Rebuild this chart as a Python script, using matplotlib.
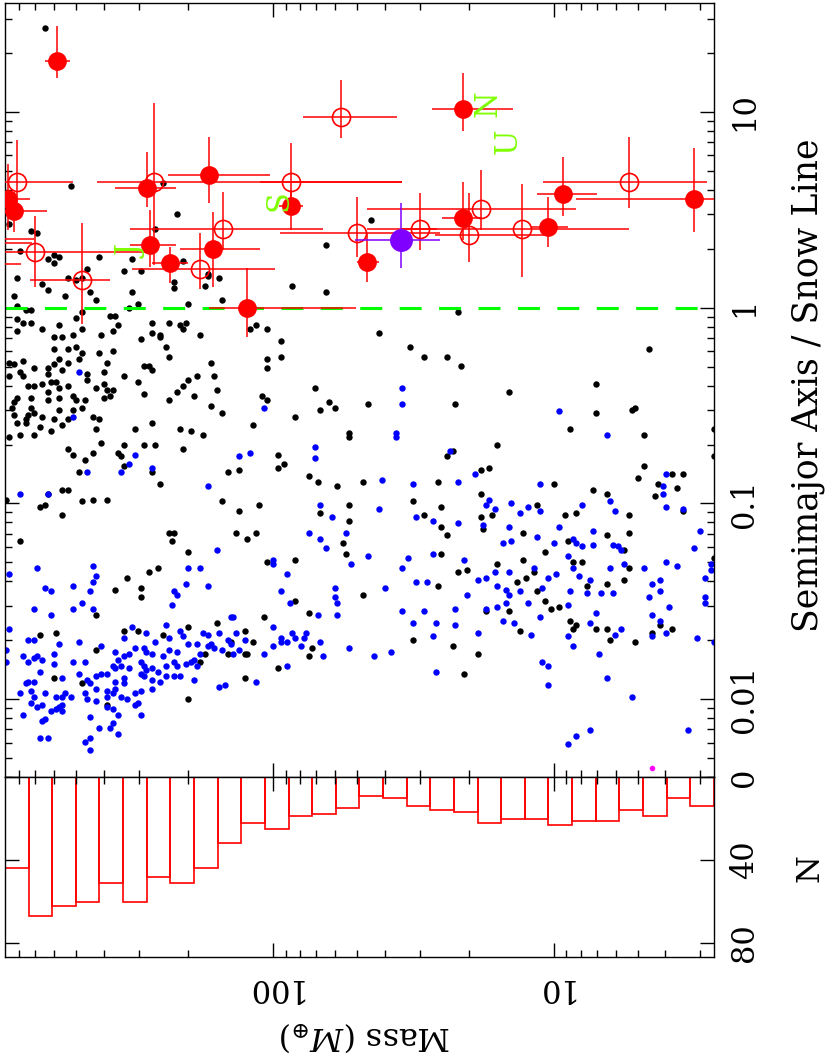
import numpy as np
import matplotlib
matplotlib.use('Agg')
import matplotlib.pyplot as plt
from matplotlib.ticker import FixedLocator, LogLocator, NullFormatter

plt.rcParams['font.family'] = 'DejaVu Serif'
plt.rcParams['mathtext.fontset'] = 'dejavuserif'

# ---------------------------------------------------------------
# Values
# known planets: (log10 mass [M_earth], log10 a / a_snow)
# ---------------------------------------------------------------
black_pts = [
    (2.81, 1.43), (2.72, 0.62), (2.39, 0.64), (2.34, 0.48), (2.42, 0.40), (2.86, 0.39),
    (2.84, 0.38), (2.94, 0.43), (2.90, 0.29), (2.78, 0.27), (2.80, 0.25), (2.78, 0.23),
    (2.76, 0.26), (2.62, 0.26), (2.50, 0.25), (2.47, 0.19), (2.53, 0.19), (2.32, 0.24),
    (2.91, 0.15), (2.82, 0.12), (2.80, 0.09), (2.73, 0.15), (2.70, 0.14), (2.68, 0.15),
    (2.66, 0.20), (2.65, 0.08), (2.63, 0.04), (2.50, 0.08), (2.35, 0.13), (2.35, 0.10),
    (2.23, 0.17), (2.23, 0.16), (2.24, 0.11), (2.19, 0.15), (2.18, 0.04), (2.74, 0.06),
    (2.92, 0.06), (1.65, 0.45), (1.81, 0.32), (1.93, 0.11), (1.81, 0.08),
    (2.91, 0.01), (2.88, -0.01), (2.86, -0.01), (2.91, -0.06), (2.89, -0.08), (2.86, -0.08),
    (2.91, -0.12), (2.82, -0.11), (2.76, -0.09), (2.70, -0.05), (2.68, -0.02), (2.68, -0.11),
    (2.71, -0.14), (2.78, -0.15), (2.75, -0.15), (2.58, -0.04), (2.56, -0.04), (2.55, -0.09),
    (2.57, -0.12), (2.61, -0.14), (2.51, 0.00), (2.48, 0.02), (2.43, -0.08), (2.43, -0.13),
    (2.40, -0.14), (2.40, -0.15), (2.47, -0.16), (2.37, -0.08), (2.33, -0.09), (2.31, -0.08),
    (2.32, -0.11), (2.26, -0.14), (2.30, 0.02), (2.08, -0.11), (2.06, -0.09), (2.02, -0.11),
    (2.02, -0.26), (2.02, -0.31), (2.78, -0.21), (2.76, -0.26), (2.73, -0.21), (2.70, -0.20),
    (2.68, -0.23), (2.62, -0.23), (2.57, -0.22), (2.59, -0.28), (2.69, -0.26), (2.38, -0.20),
    (2.37, -0.25), (2.94, -0.28), (2.92, -0.29), (2.89, -0.27), (2.85, -0.31), (2.80, -0.31),
    (2.78, -0.29), (2.80, -0.34), (2.75, -0.32), (2.73, -0.28), (2.66, -0.34), (2.60, -0.33),
    (2.53, -0.35), (2.46, -0.30), (2.44, -0.30), (2.43, -0.32), (2.22, -0.28), (2.21, -0.35),
    (2.94, -0.35), (2.90, -0.33), (2.89, -0.35), (2.87, -0.40), (2.85, -0.40), (2.82, -0.39),
    (2.79, -0.38), (2.77, -0.38), (2.76, -0.41), (2.73, -0.40), (2.66, -0.37), (2.63, -0.41),
    (2.60, -0.39), (2.59, -0.42), (2.57, -0.42), (2.58, -0.45), (2.60, -0.46), (2.48, -0.38),
    (2.32, -0.40), (2.30, -0.37), (2.27, -0.35), (2.20, -0.42), (2.46, -0.44), (2.37, -0.47),
    (2.34, -0.43), (2.28, -0.45), (2.91, -0.46), (2.92, -0.48), (2.93, -0.51), (2.92, -0.55),
    (2.91, -0.59), (2.94, -0.66), (2.86, -0.46), (2.80, -0.43), (2.80, -0.47), (2.76, -0.46),
    (2.71, -0.45), (2.70, -0.47), (2.67, -0.47), (2.86, -0.51), (2.85, -0.54), (2.87, -0.55),
    (2.88, -0.57), (2.88, -0.59), (2.78, -0.57), (2.76, -0.52), (2.82, -0.56), (2.71, -0.52),
    (2.68, -0.51), (2.22, -0.50), (2.18, -0.54), (2.04, -0.45), (2.02, -0.47), (2.64, -0.56),
    (2.62, -0.57), (2.63, -0.62), (2.73, -0.57), (2.75, -0.60), (2.79, -0.63), (2.83, -0.61),
    (2.85, -0.65), (2.90, -0.65), (2.43, -0.59), (2.49, -0.62), (2.33, -0.62), (2.29, -0.63),
    (2.25, -0.65), (2.07, -0.60), (2.61, -0.69), (2.53, -0.70), (2.46, -0.70), (2.42, -0.70),
    (2.32, -0.72), (2.73, -0.72), (2.71, -0.75), (2.64, -0.74), (2.67, -0.78), (2.55, -0.74),
    (2.54, -0.76), (2.53, -0.81), (2.69, -0.84), (2.43, -0.84), (2.40, -0.90), (2.16, -0.84),
    (2.12, -0.83), (2.75, -0.93), (2.73, -0.93), (2.80, -0.95), (2.95, -0.98), (2.83, -1.02),
    (2.81, -1.01), (2.75, -1.06), (2.68, -0.99), (2.64, -0.98), (2.59, -0.98), (2.18, -0.99),
    (2.12, -1.04), (2.05, -1.01), (2.90, -1.19), (2.37, -1.15), (2.35, -1.15), (2.36, -1.19),
    (2.30, -1.25), (2.13, -1.15), (2.06, -1.15), (2.09, -1.18), (2.02, -1.30), (2.41, -1.33),
    (2.44, -1.35), (2.52, -1.38), (2.47, -1.43), (2.47, -1.48), (2.56, -1.44), (2.63, -1.57),
    (2.77, -1.66), (2.83, -1.67), (2.53, -1.65), (2.48, -1.65), (2.30, -1.63), (2.20, -1.61),
    (2.10, -1.65), (2.03, -1.58), (2.39, -1.67),
    (2.63, -1.75), (2.78, -1.89), (2.68, -1.92), (2.30, -2.00), (2.10, -1.89), (2.10, -1.77),
    (2.09, -1.77), (2.07, -1.71), (2.16, -1.77), (2.24, -1.77), (2.26, -1.81), (2.15, -1.71),
    (2.59, -2.03),
    (1.34, -0.02), (1.62, -0.13), (1.97, -0.17), (1.97, -0.25), (1.51, -0.20), (1.46, -0.25),
    (1.38, -0.25), (1.33, -0.30), (1.85, -0.41), (1.80, -0.48), (1.83, -0.52), (1.78, -0.51),
    (1.66, -0.49), (1.35, -0.49), (1.92, -0.56), (1.73, -0.64), (1.73, -0.66), (1.98, -0.75),
    (1.98, -0.82), (1.96, -0.80), (1.38, -0.76), (1.36, -0.73), (1.20, -0.70), (1.87, -0.86),
    (1.84, -0.89), (1.77, -0.91), (1.68, -0.89), (1.41, -0.89), (1.26, -0.83), (1.23, -0.82),
    (1.26, -0.95), (1.50, -0.99), (1.40, -1.02), (1.46, -1.06), (1.83, -1.05), (1.73, -1.01),
    (1.73, -1.09), (1.40, -1.12), (1.38, -1.16), (1.26, -1.07), (1.25, -1.13), (1.22, -1.06),
    (1.75, -1.20), (1.74, -1.26), (1.92, -1.29), (1.40, -1.26), (1.34, -1.35), (1.31, -1.34),
    (1.20, -1.31), (1.41, -1.42), (1.68, -1.47), (1.92, -1.50), (1.87, -1.56), (1.24, -1.55),
    (1.86, -1.74), (1.87, -1.78), (1.50, -1.70), (1.36, -1.73), (1.27, -1.77), (1.98, -1.84),
    (1.32, -1.87),
    (1.16, -0.43), (0.85, -0.39), (0.85, -0.54), (0.94, -0.62), (0.66, -0.21), (0.72, -0.52),
    (0.71, -0.51), (0.68, -0.65), (0.43, -0.62), (0.43, -0.76), (0.68, -0.81), (0.70, -0.87),
    (0.58, -0.85), (0.54, -0.85), (0.63, -0.90), (0.56, -0.92), (0.64, -0.96), (1.00, -0.90),
    (0.86, -0.93), (0.81, -0.95), (1.06, -1.01), (0.96, -1.06), (0.92, -1.05), (0.73, -1.06),
    (0.54, -1.04), (1.11, -1.15), (0.95, -1.19), (0.81, -1.16), (0.73, -1.15), (1.03, -1.25),
    (0.75, -1.24), (1.11, -1.29), (1.07, -1.35), (0.93, -1.30), (0.90, -1.30), (0.73, -1.33),
    (0.43, -1.28), (1.10, -1.38), (1.13, -1.40), (1.06, -1.45), (0.88, -1.42), (0.81, -1.41),
    (0.75, -1.39), (1.03, -1.50), (0.98, -1.53), (1.01, -1.54), (1.16, -1.55), (1.12, -1.65),
    (0.94, -1.60), (0.93, -1.64), (0.92, -1.62), (0.85, -1.64), (0.81, -1.64), (0.80, -1.70),
    (0.71, -1.71), (0.65, -1.66), (0.62, -1.62), (0.58, -1.64),
]

blue_pts = [
    (2.69, -0.33), (2.71, -0.56), (2.03, -0.51), (2.49, -0.75), (2.51, -0.80), (2.54, -0.84),
    (2.66, -0.84), (2.43, -0.82), (2.12, -0.76), (2.08, -0.74), (2.23, -0.91), (2.90, -0.95),
    (2.80, -0.95), (2.20, -1.24), (2.94, -1.36), (2.84, -1.33), (2.64, -1.32), (2.63, -1.37),
    (2.64, -1.40), (2.30, -1.33), (2.26, -1.33), (2.71, -1.42), (2.81, -1.43), (2.79, -1.45),
    (2.65, -1.45), (2.31, -1.41), (2.23, -1.42), (2.35, -1.45), (2.34, -1.47), (2.36, -1.52),
    (2.68, -1.51), (2.71, -1.54), (2.64, -1.54), (2.85, -1.54), (2.79, -1.57), (2.15, -1.58),
    (2.14, -1.58), (2.94, -1.64), (2.87, -1.70), (2.85, -1.70), (2.50, -1.63), (2.45, -1.66),
    (2.38, -1.62), (2.33, -1.65), (2.32, -1.68), (2.25, -1.66), (2.23, -1.67), (2.19, -1.66),
    (2.16, -1.70), (2.13, -1.66), (2.10, -1.70), (2.53, -1.69), (2.37, -1.69),
    (2.95, -1.75), (2.95, -1.81), (2.89, -1.78), (2.87, -1.81), (2.85, -1.79), (2.84, -1.78),
    (2.82, -1.80), (2.78, -1.77), (2.78, -1.82), (2.76, -1.72), (2.71, -1.81), (2.67, -1.81),
    (2.69, -1.71), (2.61, -1.73), (2.56, -1.76), (2.55, -1.80), (2.53, -1.78), (2.51, -1.77),
    (2.49, -1.74), (2.46, -1.74), (2.45, -1.76), (2.43, -1.77), (2.42, -1.71), (2.39, -1.78),
    (2.37, -1.75), (2.34, -1.76), (2.30, -1.72), (2.27, -1.72), (2.26, -1.77), (2.23, -1.73),
    (2.22, -1.72), (2.21, -1.74), (2.18, -1.75), (2.15, -1.72), (2.14, -1.77), (2.12, -1.75),
    (2.03, -1.77), (2.57, -1.83), (2.56, -1.84), (2.54, -1.83), (2.51, -1.84), (2.47, -1.81),
    (2.46, -1.83), (2.45, -1.85), (2.47, -1.87), (2.43, -1.84), (2.41, -1.86), (2.38, -1.83),
    (2.35, -1.81), (2.34, -1.83), (2.31, -1.82), (2.29, -1.81), (2.28, -1.80), (2.27, -1.83),
    (2.33, -1.88), (2.35, -1.88), (2.38, -1.88), (2.40, -1.91), (2.43, -1.90), (2.46, -1.88),
    (2.43, -1.95), (2.49, -1.97), (2.47, -1.96), (2.52, -2.00), (2.54, -1.99), (2.56, -1.95),
    (2.57, -1.97), (2.61, -1.87), (2.63, -1.88), (2.59, -1.87), (2.53, -1.89), (2.53, -1.92),
    (2.56, -1.91), (2.66, -1.90), (2.65, -1.92), (2.69, -1.87), (2.75, -1.89), (2.83, -1.86),
    (2.88, -1.92), (2.87, -1.91), (2.85, -1.91), (2.90, -1.97), (2.86, -1.96), (2.81, -1.97),
    (2.85, -1.99), (2.77, -1.99), (2.75, -1.99), (2.74, -1.97), (2.72, -1.99), (2.67, -1.97),
    (2.66, -2.00), (2.63, -1.95), (2.59, -1.96), (2.59, -1.99), (2.63, -2.01), (2.75, -2.03),
    (2.76, -2.04), (2.77, -2.05), (2.79, -2.06), (2.75, -2.06), (2.82, -2.03), (2.86, -2.02),
    (2.84, -2.04), (2.89, -2.08), (2.81, -2.10), (2.82, -2.11), (2.65, -2.09), (2.59, -2.04),
    (2.57, -2.05), (2.55, -2.08), (2.49, -2.03), (2.48, -2.02), (2.47, -2.08), (2.57, -2.12),
    (2.58, -2.15), (2.62, -2.15), (2.55, -2.18), (2.67, -2.22), (2.65, -2.20), (2.83, -2.20),
    (2.80, -2.20), (2.65, -2.26), (2.19, -1.94), (2.17, -1.93), (2.06, -1.91), (2.28, -1.90),
    (1.54, -0.41), (1.54, -0.49), (1.56, -0.64), (1.56, -0.66), (1.85, -0.71), (1.85, -0.77),
    (1.37, -0.73), (1.61, -0.88), (1.50, -0.90), (1.34, -0.89), (1.28, -0.85), (1.83, -1.01),
    (1.79, -1.07), (1.62, -1.03), (1.49, -1.07), (1.43, -1.09), (1.34, -1.10), (1.23, -0.98),
    (1.24, -1.01), (1.21, -1.03), (1.25, -1.11), (1.87, -1.15), (1.83, -1.18), (1.74, -1.15),
    (1.81, -1.23), (1.72, -1.31), (1.66, -1.27), (1.52, -1.28), (1.54, -1.33), (1.43, -1.26),
    (1.32, -1.29), (2.00, -1.29), (2.00, -1.31), (1.95, -1.36), (1.97, -1.45), (1.94, -1.51),
    (1.78, -1.43), (1.78, -1.48), (1.77, -1.51), (1.77, -1.57), (1.84, -1.57), (1.60, -1.43),
    (1.49, -1.40), (1.45, -1.40), (1.27, -1.39), (1.24, -1.38), (1.21, -1.35), (1.20, -1.42),
    (1.31, -1.47), (1.54, -1.55), (1.46, -1.55), (1.35, -1.54), (1.24, -1.54), (1.20, -1.53),
    (1.50, -1.61), (1.42, -1.61), (1.35, -1.62), (1.27, -1.66), (1.43, -1.68), (2.00, -1.63),
    (2.00, -1.73), (1.97, -1.71), (1.97, -1.69), (1.95, -1.71), (1.93, -1.66), (1.92, -1.69),
    (1.90, -1.73), (1.89, -1.69), (1.88, -1.66), (1.83, -1.71), (1.82, -1.78), (1.73, -1.74),
    (1.64, -1.78), (1.58, -1.76), (1.42, -1.86), (1.95, -1.83),
    (0.98, -0.53), (0.81, -0.65), (1.05, -0.90), (0.60, -0.85), (0.61, -0.91), (0.61, -0.95),
    (0.80, -0.99), (0.78, -1.04), (0.54, -1.03), (1.15, -1.00), (1.09, -1.02), (1.12, -1.05),
    (1.05, -1.04), (0.90, -1.01), (1.16, -1.12), (0.98, -1.12), (0.86, -1.14), (1.18, -1.20),
    (1.15, -1.19), (1.06, -1.17), (1.00, -1.20), (0.93, -1.18), (0.92, -1.20), (0.90, -1.22),
    (0.86, -1.21), (0.79, -1.21), (0.77, -1.22), (0.76, -1.24), (0.48, -1.14), (0.50, -1.23),
    (1.07, -1.33), (1.16, -1.35), (0.95, -1.27), (0.93, -1.33), (0.80, -1.33), (0.75, -1.31),
    (0.68, -1.33), (0.60, -1.30), (0.56, -1.32), (0.44, -1.31), (0.44, -1.34), (0.91, -1.37),
    (1.02, -1.38), (0.99, -1.36), (0.87, -1.39), (0.46, -1.38), (1.17, -1.44), (1.16, -1.47),
    (1.12, -1.45), (1.04, -1.43), (0.94, -1.45), (0.88, -1.46), (0.83, -1.46), (0.79, -1.46),
    (0.65, -1.41), (0.62, -1.39), (0.62, -1.45), (0.66, -1.48), (0.46, -1.48), (0.46, -1.51),
    (1.17, -1.51), (1.09, -1.51), (1.05, -1.58), (1.18, -1.60), (1.14, -1.61), (1.08, -1.67),
    (0.95, -1.52), (0.85, -1.56), (0.87, -1.61), (0.65, -1.57), (0.62, -1.60), (0.59, -1.53),
    (0.76, -1.64), (0.78, -1.67), (0.95, -1.68), (0.93, -1.73), (0.84, -1.77), (0.65, -1.68),
    (0.60, -1.66), (0.49, -1.69), (0.43, -1.71), (1.04, -1.81), (1.02, -1.83), (1.02, -1.93),
    (0.81, -1.89), (0.72, -1.99), (0.52, -2.16), (0.87, -2.16), (0.92, -2.19), (0.95, -2.23),
    (0.60, -1.02),
]

# microlensing planets (red), with ranges
red_mass = [586, 877, 834, 815, 702, 478, 281, 265, 169, 274, 232, 182, 163, 150, 124,
            86, 86, 57, 50, 46, 29.9, 21, 21, 20, 18.2, 13, 10.5, 9.27, 5.4, 3.17,
            1100, 1100, 1100]
red_a = [18.2, 3.59, 3.12, 4.39, 1.93, 1.38, 4.1, 4.4, 4.76, 2.09, 1.69, 1.58, 1.99, 2.52, 1.0,
         3.31, 4.39, 9.4, 2.4, 1.71, 2.52, 10.4, 2.87, 2.35, 3.19, 2.52, 2.6, 3.81, 4.39, 3.59,
         2.24, 2.14, 1.67]
red_mass_lo = [527, 731, 637, 514, 262, 380, 221, 34.7, 102, 221, 200, 98, 111, 66, 50.6,
               78, 34.7, 36, 25.4, 42, 26, 14.0, 18, 10.6, 8.3, 5.4, 8.9, 7.0, 2.85, 2.67,
               710, 720, 790]
red_mass_hi = [647, 1000, 1000, 898, 898, 731, 365, 423, 236, 322, 270, 318, 214, 322, 169,
               95, 111, 78, 94, 50, 46, 27.2, 25, 26.5, 46, 35, 12, 11.5, 10.9, 8.3,
               1100, 1100, 1100]
red_a_lo = [14.9, 2.5, 2.45, 3.0, 1.27, 0.83, 3.26, 1.65, 3.42, 1.61, 1.34, 1.24, 1.27, 1.97, 0.71,
            2.5, 3.6, 7.36, 1.82, 1.35, 1.97, 8.0, 2.22, 1.71, 2.5, 1.44, 2.04, 2.94, 3.23, 2.44,
            2.24, 2.14, 1.67]
red_a_hi = [27.5, 5.4, 3.9, 7.2, 2.94, 2.71, 6.24, 11.1, 7.45, 3.15, 2.04, 2.42, 3.1, 3.9, 1.6,
            4.0, 6.94, 14.6, 3.67, 2.41, 3.85, 15.8, 4.39, 3.85, 5.05, 4.3, 3.7, 5.89, 7.45, 6.54,
            2.24, 2.14, 1.67]
red_filled = [1, 1, 1, 0, 0, 0, 1, 0, 1, 1, 1, 0, 1, 0, 1,
              1, 0, 0, 0, 1, 0, 1, 1, 0, 0, 0, 1, 1, 0, 1,
              1, 0, 1]

# purple point and its ranges
purple_mass, purple_a = 35, 2.22
purple_mass_rng = (25.4, 51)
purple_a_rng = (1.6, 3.42)

# lone magenta point
magenta_mass, magenta_a = 4.46, 0.00447

# solar system planets (a in units of the 2.7 AU snow line)
solar_names = ['J', 'S', 'U', 'N']
solar_mass = [317.8, 95.2, 14.5, 17.1]
solar_a = [1.93, 3.54, 7.11, 11.1]

# histogram of masses, bins from high mass to low mass
hist_mass_range = (898, 2.69)
hist_counts = [44, 67, 62, 60, 51, 60, 48, 51, 44, 32, 22, 25, 19, 18, 15,
               9, 10, 14, 16, 17, 22, 20, 20, 23, 21, 21, 16, 19, 10, 14]

snow_line = 1.0


def style_axis(ax):
    '''Log mass axis, inward ticks on every side.'''
    ax.set_xscale('log')
    ax.set_xlim(*hist_mass_range)
    ax.xaxis.set_major_locator(FixedLocator([10, 100]))
    ax.xaxis.set_minor_locator(LogLocator(subs=np.arange(2, 10)))
    ax.xaxis.set_minor_formatter(NullFormatter())
    ax.tick_params(which='both', direction='in', top=True, bottom=True,
                   left=True, right=True, width=1.0, labelsize=22)
    ax.tick_params(which='major', length=10)
    ax.tick_params(which='minor', length=5)
    for sp in ax.spines.values():
        sp.set_linewidth(1.0)


fig = plt.figure(figsize=(8.3, 10.59), dpi=100)
ax = fig.add_axes([0.006, 0.2663, 0.854, 0.7309])
axh = fig.add_axes([0.006, 0.0963, 0.854, 0.1700])

style_axis(ax)
style_axis(axh)

# main panel
ax.set_yscale('log')
ax.set_ylim(0.004, 36.1)
ax.yaxis.set_minor_locator(LogLocator(subs=np.arange(2, 10)))
ax.yaxis.set_minor_formatter(NullFormatter())
ax.set_yticks([0.01, 0.1, 1, 10])
ax.set_yticklabels(['0.01', '0.1', '1', '10'], rotation=90, va='center')
ax.tick_params(labelbottom=False, labelleft=False, labelright=True, pad=11)

bm, ba = np.array(black_pts).T
ax.plot(10**bm, 10**ba, 'o', color='black', ms=4.6, mew=0, zorder=2)
cm, ca = np.array(blue_pts).T
ax.plot(10**cm, 10**ca, 'o', color='#0000ff', ms=4.6, mew=0, zorder=2)

ax.axhline(snow_line, color='#00ff00', lw=2.2, dashes=(7.2, 5.7), zorder=2.5)

for i in range(len(red_mass)):
    m, a = red_mass[i], red_a[i]
    xerr = [[m - red_mass_lo[i]], [red_mass_hi[i] - m]]
    yerr = [[a - red_a_lo[i]], [red_a_hi[i] - a]]
    ax.errorbar(m, a, xerr=xerr, yerr=yerr, fmt='none', ecolor='red',
                elinewidth=1.1, capsize=0, zorder=3)
    if red_filled[i]:
        ax.plot(m, a, 'o', color='red', ms=13.5, mew=0, zorder=4)
    else:
        ax.plot(m, a, 'o', mfc='none', mec='red', ms=13, mew=1.2, zorder=4)

ax.errorbar(purple_mass, purple_a,
            xerr=[[purple_mass - purple_mass_rng[0]], [purple_mass_rng[1] - purple_mass]],
            yerr=[[purple_a - purple_a_rng[0]], [purple_a_rng[1] - purple_a]],
            fmt='o', color='#7f00ff', ms=16.5, mew=0, elinewidth=1.1, zorder=4)

ax.plot(magenta_mass, magenta_a, 'o', color='#ff00ff', ms=4, mew=0, zorder=2)

for name, m, a in zip(solar_names, solar_mass, solar_a):
    ax.text(m, a, name, color='#7fff00', fontsize=22, rotation=90,
            ha='center', va='center', zorder=5)

# histogram panel (counts grow downwards)
edges = np.logspace(np.log10(hist_mass_range[0]), np.log10(hist_mass_range[1]),
                    len(hist_counts) + 1)
axh.bar(edges[1:], hist_counts, width=edges[:-1] - edges[1:], align='edge',
        fill=False, edgecolor='red', lw=1.2)
axh.set_ylim(86.7, 0)
axh.set_yticks([0, 40, 80])
axh.set_yticklabels(['0', '40', '80'], rotation=90, va='center')
axh.set_xticks([10, 100])
axh.set_xticklabels(['10', '100'], rotation=180)
axh.tick_params(labelleft=False, labelright=True, pad=11)

# axis titles (figure is turned on its side)
fig.text(0.44, 0.022, r'Mass ($M_{\oplus}$)', rotation=180, fontsize=23,
         ha='center', va='center')
fig.text(0.9735, 0.636, 'Semimajor Axis / Snow Line', rotation=90, fontsize=25,
         ha='center', va='center')
fig.text(0.976, 0.180, 'N', rotation=90, fontsize=23, ha='center', va='center')

fig.savefig('out.png', dpi=100)
